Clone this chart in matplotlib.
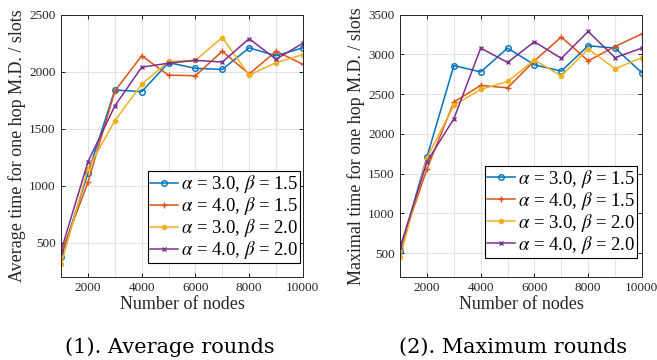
import matplotlib
matplotlib.use("Agg")
import matplotlib.pyplot as plt

plt.rcParams['font.family'] = ['Liberation Serif', 'DejaVu Serif']
plt.rcParams['mathtext.fontset'] = 'stix'

# ------------------ DATA ------------------
nodes = [1000, 2000, 3000, 4000, 5000, 6000, 7000, 8000, 9000, 10000]

labels = [r'$\alpha$ = 3.0, $\beta$ = 1.5',
          r'$\alpha$ = 4.0, $\beta$ = 1.5',
          r'$\alpha$ = 3.0, $\beta$ = 2.0',
          r'$\alpha$ = 4.0, $\beta$ = 2.0']

avg_a3_b15 = [370, 1110, 1840, 1825, 2080, 2030, 2020, 2210, 2140, 2210]
avg_a4_b15 = [400, 1030, 1830, 2140, 1970, 1965, 2180, 1980, 2180, 2065]
avg_a3_b20 = [310, 1150, 1570, 1890, 2090, 2100, 2300, 1970, 2080, 2150]
avg_a4_b20 = [430, 1210, 1700, 2040, 2075, 2100, 2085, 2290, 2110, 2250]

max_a3_b15 = [530, 1710, 2860, 2780, 3080, 2870, 2790, 3110, 3080, 2770]
max_a4_b15 = [560, 1560, 2400, 2610, 2580, 2920, 3220, 2920, 3100, 3260]
max_a3_b20 = [450, 1700, 2360, 2560, 2660, 2930, 2730, 3070, 2820, 2960]
max_a4_b20 = [570, 1650, 2190, 3080, 2900, 3160, 2950, 3290, 2960, 3080]

# ------------------ STYLE (MATLAB-like) ------------------
cores = ['#0072BD', '#D95319', '#EDB120', '#7E2F8E']
marcadores = [dict(marker='o', markersize=4, markerfacecolor='none', markeredgewidth=1.0),
              dict(marker='+', markersize=4, markeredgewidth=1.0),
              dict(marker='.', markersize=6),
              dict(marker='x', markersize=3.5, markeredgewidth=1.0)]


def desenhar(ax, series, ylim, yticks, ylabel, leg_anchor):
    for s, c, m, lab in zip(series, cores, marcadores, labels):
        ax.plot(nodes, s, color=c, linewidth=1.1, label=lab, **m)
    ax.set_xlim(1000, 10000)
    ax.set_ylim(*ylim)
    ax.set_xticks([2000, 4000, 6000, 8000, 10000])
    ax.set_xticks(range(1000, 10001, 1000), minor=True)
    ax.set_yticks(yticks)
    ax.tick_params(which='minor', length=0)
    ax.grid(True, which='both', color='#e3e3e3', linewidth=0.8)
    ax.set_axisbelow(True)
    ax.tick_params(direction='in', top=True, right=True, labelsize=9.5, length=3,
                   width=0.6, labelcolor='#262626', pad=4)
    for sp in ax.spines.values():
        sp.set_linewidth(0.7)
        sp.set_color('#262626')
    ax.set_xlabel('Number of nodes', fontsize=13, labelpad=1, color='#262626')
    ax.set_ylabel(ylabel, fontsize=13, labelpad=2, color='#262626')
    leg = ax.legend(loc='lower right', bbox_to_anchor=leg_anchor, fontsize=13.5,
                    frameon=True, fancybox=False, framealpha=1,
                    edgecolor='black', borderpad=0.1, labelspacing=0.0,
                    handlelength=1.5, handletextpad=0.15, borderaxespad=0.0)
    leg.get_frame().set_linewidth(0.8)


fig = plt.figure(figsize=(6.57, 3.6), dpi=100)
ax1 = fig.add_axes([0.093, 0.231, 0.368, 0.728])
ax2 = fig.add_axes([0.609, 0.231, 0.368, 0.728])

desenhar(ax1, [avg_a3_b15, avg_a4_b15, avg_a3_b20, avg_a4_b20],
         (200, 2500), [500, 1000, 1500, 2000, 2500],
         'Average time for one hop M.D. / slots', (0.988, 0.053))
desenhar(ax2, [max_a3_b15, max_a4_b15, max_a3_b20, max_a4_b20],
         (200, 3500), [500, 1000, 1500, 2000, 2500, 3000, 3500],
         'Maximal time for one hop M.D. / slots', (0.979, 0.073))

fig.text(0.258, 0.036, '(1). Average rounds', ha='center', va='center',
         fontsize=15, family=['DejaVu Serif'])
fig.text(0.781, 0.036, '(2). Maximum rounds', ha='center', va='center',
         fontsize=15, family=['DejaVu Serif'])

fig.savefig('out.png', dpi=100)
